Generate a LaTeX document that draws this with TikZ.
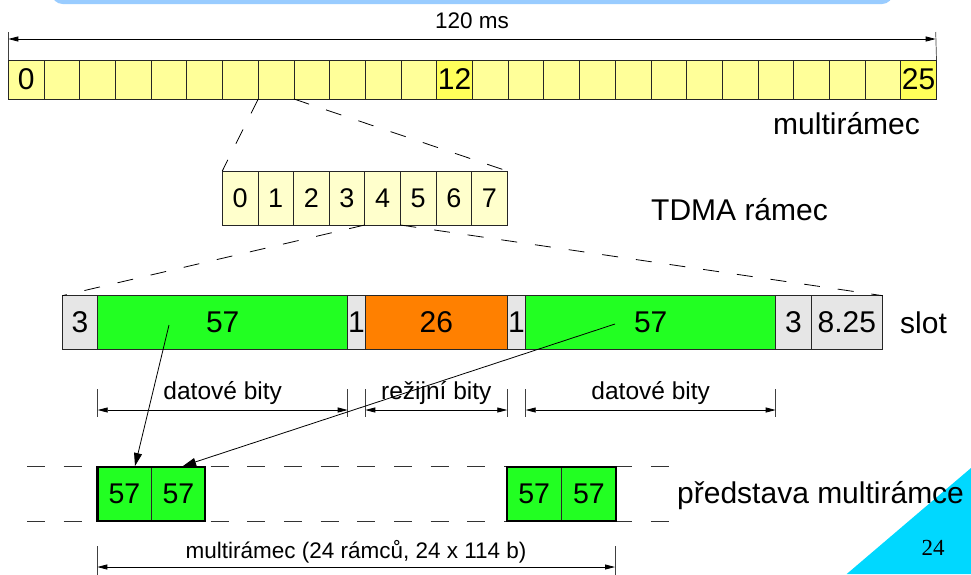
\documentclass[tikz,border=0pt]{standalone}
\usepackage{fontspec}
\setmainfont{Liberation Sans}
\newfontfamily\pgnumfont{Liberation Serif}
\usetikzlibrary{arrows.meta,calc}
\definecolor{barblue}{RGB}{153,204,255}
\definecolor{cyanc}{RGB}{0,216,255}
\definecolor{yelA}{RGB}{255,255,153}
\definecolor{yelB}{RGB}{255,255,90}
\definecolor{yelC}{RGB}{255,255,204}
\definecolor{greenc}{RGB}{34,255,34}
\definecolor{orangec}{RGB}{255,128,0}
\definecolor{grayc}{RGB}{230,230,230}
\begin{document}
\begin{tikzpicture}[x=1pt,y=-1pt,
 cellbase/.style={draw=black!85,line width=0.8pt,inner sep=0pt,outer sep=0pt,anchor=north west},
 mcell/.style={cellbase,fill=yelA,minimum width=35.7pt,minimum height=39pt,font=\fontsize{30}{32}\selectfont},
 tcell/.style={cellbase,fill=yelC,minimum width=35.6pt,minimum height=54pt,font=\fontsize{27}{30}\selectfont},
 scell/.style={cellbase,minimum height=53.6pt,font=\fontsize{30}{32}\selectfont},
 bcell/.style={cellbase,fill=greenc,minimum height=54.3pt,font=\fontsize{28.5}{30}\selectfont},
 biglabel/.style={anchor=base west,inner sep=0pt,font=\fontsize{30}{34}\selectfont},
 smalllabel/.style={anchor=base,inner sep=0pt,font=\fontsize{22.5}{26}\selectfont},
 midlabel/.style={anchor=base,inner sep=0pt,font=\fontsize{24.5}{28}\selectfont},
 tickline/.style={draw=black!75,line width=0.7pt},
 dimarrow/.style={line width=0.8pt,{Triangle[length=10pt,width=5pt]}-{Triangle[length=10pt,width=5pt]}},
 exparrow/.style={line width=0.8pt,-{Triangle[length=13pt,width=8pt]}},
 expline/.style={line width=0.8pt,dash pattern=on 16pt off 18pt},
 rowline/.style={line width=0.8pt,draw=black!80,dash pattern=on 18pt off 18.7pt},
 thickbox/.style={line width=2.4pt,draw=black}
]
\useasboundingbox (0,0) rectangle (971,574);
% background decorations
\fill[barblue,rounded corners=11pt] (51.7,-30) rectangle (893,4);
\fill[cyanc] (846.7,574) -- (971,468) -- (971,574) -- cycle;

% multiframe
\foreach \i in {0,...,25} {
  \node[mcell] (m\i) at ({8.3+35.7*\i},60) {};
}
\node[mcell] (m0) at (8.3,60) {0};
\node[mcell,fill=yelB] (m12) at ({8.3+35.7*12},60) {12};
\node[mcell,fill=yelB] (m25) at ({8.3+35.7*25},60) {25};

% 120 ms dimension
\coordinate (t120a) at (8.3,32);
\coordinate (t120b) at (935.7,32);
\coordinate (a120a) at (8.3,39);
\coordinate (a120b) at (935.7,39);
\draw[tickline] (t120a) -- (m0.north west);
\draw[tickline] (t120b) -- (m25.north east);
\draw[dimarrow] (a120a) -- (a120b);
\node[smalllabel] (l120) at (472,28.3) {120 ms};

\node[biglabel] (lmulti) at (773,134) {multirámec};

% TDMA frame
\foreach \i in {0,...,7} {
  \node[tcell] (t\i) at ({222.3+35.625*\i},171) {\i};
}
\node[biglabel] (ltdma) at (651,220) {TDMA rámec};
\draw[expline] (m7.south west) -- (t0.north west);
\draw[expline] (m7.south east) -- (t7.north east);

% slot
\node[scell,fill=grayc,minimum width=35.4pt] (s0) at (62.3,295.7) {3};
\node[scell,fill=greenc,minimum width=250pt] (s1) at (97.7,295.7) {57};
\node[scell,fill=grayc,minimum width=17.6pt] (s2) at (347.7,295.7) {1};
\node[scell,fill=orangec,minimum width=142pt] (s3) at (365.3,295.7) {26};
\node[scell,fill=grayc,minimum width=18.4pt] (s4) at (507.3,295.7) {1};
\node[scell,fill=greenc,minimum width=250pt] (s5) at (525.7,295.7) {57};
\node[scell,fill=grayc,minimum width=35.3pt] (s6) at (775.7,295.7) {3};
\node[scell,fill=grayc,minimum width=71.7pt] (s7) at (811,295.7) {8.25};
\node[biglabel] (lslot) at (900,333.3) {slot};
\draw[expline] (t4.south west) -- (s0.north west);
\draw[expline] (t4.south east) -- (s7.north east);

% slot dimensions
\foreach \n/\x in {1/97.7,2/347.7,3/365.3,4/507.3,5/525.7,6/775.7} {
  \coordinate (dt\n) at (\x,389);
  \coordinate (db\n) at (\x,416.7);
  \coordinate (da\n) at (\x,410);
  \draw[tickline] (dt\n) -- (db\n);
}
\draw[dimarrow] (da1) -- (da2);
\draw[dimarrow] (da3) -- (da4);
\draw[dimarrow] (da5) -- (da6);
\node[midlabel] (ld1) at (222.7,399.3) {datové bity};
\node[midlabel] (ld2) at (436.3,399.3) {režijní bity};
\node[midlabel] (ld3) at (650.7,399.3) {datové bity};

% bottom multiframe representation
\coordinate (rl1a) at (27,466.7);
\coordinate (rl1b) at (669,466.7);
\coordinate (rl2a) at (27,521);
\coordinate (rl2b) at (669,521);
\draw[rowline] (rl1a) -- (rl1b);
\draw[rowline] (rl2a) -- (rl2b);
\node[bcell,minimum width=54.4pt] (b1) at (97.3,466.7) {57};
\node[bcell,minimum width=53.3pt] (b2) at (151.7,466.7) {57};
\node[bcell,minimum width=55pt] (b3) at (506.7,466.7) {57};
\node[bcell,minimum width=54.3pt] (b4) at (561.7,466.7) {57};
\draw[thickbox] (b1.north west) rectangle (b2.south east);
\draw[thickbox] (b3.north west) rectangle (b4.south east);
\node[biglabel] (lpred) at (677,503.3) {představa multirámce};

% arrows from slot to representation
\coordinate (as1) at (169,325);
\coordinate (ae1) at (135,466);
\coordinate (as2) at (615,324);
\coordinate (ae2) at (183,466);
\draw[exparrow] (as1) -- (ae1);
\draw[exparrow] (as2) -- (ae2);

% bottom dimension
\coordinate (bt1) at (97.3,546);
\coordinate (bb1) at (97.3,576);
\coordinate (bt2) at (615,546);
\coordinate (bb2) at (615,576);
\coordinate (ba1) at (97.3,567);
\coordinate (ba2) at (615,567);
\draw[tickline] (bt1) -- (bb1);
\draw[tickline] (bt2) -- (bb2);
\draw[dimarrow] (ba1) -- (ba2);
\node[smalllabel] (lbot) at (356,558.3) {multirámec (24 rámců, 24 x 114 b)};

\node[anchor=base,inner sep=0pt,font=\pgnumfont\fontsize{23}{26}\selectfont] (pgnum) at (933,555) {24};
\end{tikzpicture}
\end{document}
